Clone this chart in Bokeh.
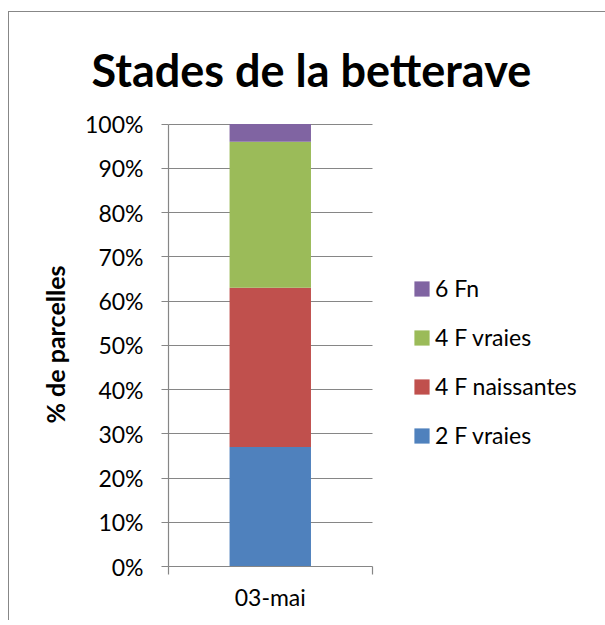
from bokeh.plotting import figure
from bokeh.models import (Range1d, LinearAxis, FixedTicker, PrintfTickFormatter, Legend,
                          LegendItem, Title, Grid, ColumnDataSource)
from bokeh.embed import file_html
from bokeh.resources import INLINE

# ---- data ----
categories = ["03-mai"]
stages = ["2 F vraies", "4 F naissantes", "4 F vraies", "6 Fn"]
v_2f_vraies = [27]
v_4f_naissantes = [36]
v_4f_vraies = [33]
v_6fn = [4]
colors = ["#4F81BD", "#C0504D", "#9BBB59", "#8064A2"]
y_ticks = [0, 10, 20, 30, 40, 50, 60, 70, 80, 90, 100]
title_text = "Stades de la betterave"
y_label = "% de parcelles"

FONT = "Lato"
GRAY = "#868686"

n_cat = len(categories)
cat_pos = [i + 0.5 for i in range(n_cat)]

source = ColumnDataSource(dict(x=cat_pos, s0=v_2f_vraies, s1=v_4f_naissantes,
                               s2=v_4f_vraies, s3=v_6fn))

p = figure(width=597, height=609, x_range=Range1d(0, 2.093 * n_cat), y_range=Range1d(0, 100.34),
           x_axis_type=None, y_axis_type=None,
           output_backend="svg", toolbar_location=None,
           min_border_left=159, min_border_right=12, min_border_top=110, min_border_bottom=55)
p.outline_line_color = None
p.background_fill_color = "white"
p.border_fill_color = "white"
p.styles = {"margin-left": "8px", "margin-top": "11px",
            "border-left": "1px solid #878787", "border-top": "1px solid #878787"}

grid = Grid(dimension=1, ticker=FixedTicker(ticks=y_ticks), bounds=(0, 100),
            cross_bounds=(0, n_cat), grid_line_color=GRAY, grid_line_width=1.2)
p.add_layout(grid)

rs = p.vbar_stack(["s0", "s1", "s2", "s3"], x="x", width=0.4, color=colors, source=source,
                  line_color=None)

# y axis
yax = LinearAxis(ticker=FixedTicker(ticks=y_ticks), formatter=PrintfTickFormatter(format="%d%%"),
                 bounds=(0, 100),
                 major_tick_out=7, major_tick_in=0, minor_tick_line_color=None,
                 axis_line_color=GRAY, major_tick_line_color=GRAY, axis_line_width=1.2,
                 major_tick_line_width=1.2,
                 major_label_text_font=FONT, major_label_text_font_size="23px",
                 major_label_text_color="black", major_label_standoff=18,
                 axis_label=y_label, axis_label_text_font=FONT, axis_label_text_font_size="25px",
                 axis_label_text_font_style="bold", axis_label_text_color="black",
                 axis_label_standoff=12)
p.add_layout(yax, "left")

# x axis: edge ticks at category boundaries
edge = LinearAxis(ticker=FixedTicker(ticks=list(range(n_cat + 1))), bounds=(0, n_cat),
                  major_tick_out=8, major_tick_in=0, minor_tick_line_color=None,
                  axis_line_color=GRAY, major_tick_line_color=GRAY, axis_line_width=1.2,
                  major_tick_line_width=1.2,
                  major_label_text_font_size="0px", major_label_standoff=0)
p.add_layout(edge, "below")

cat = LinearAxis(ticker=FixedTicker(ticks=cat_pos),
                 major_label_overrides=dict(zip(cat_pos, categories)),
                 major_tick_line_color=None, axis_line_color=None, major_tick_out=0,
                 minor_tick_line_color=None,
                 major_label_text_font=FONT, major_label_text_font_size="23px",
                 major_label_text_color="black", major_label_standoff=8)
p.add_layout(cat, "below")

# title
p.add_layout(Title(text=title_text, align="left", offset=-77, standoff=51, text_font=FONT,
                   text_font_style="bold", text_font_size="45px", text_color="black"), "above")

# legend (top to bottom reversed)
items = [LegendItem(label=stages[i], renderers=[rs[i]]) for i in [3, 2, 1, 0]]
legend = Legend(items=items, location=(244, 117), orientation="vertical",
                glyph_width=19, glyph_height=19, label_standoff=4, spacing=21,
                label_height=24, padding=0, margin=0, border_line_color=None,
                background_fill_alpha=0, label_text_font=FONT, label_text_font_size="23px",
                label_text_color="black")
p.add_layout(legend, "center")

open("out.html", "w").write(file_html(p, INLINE))
